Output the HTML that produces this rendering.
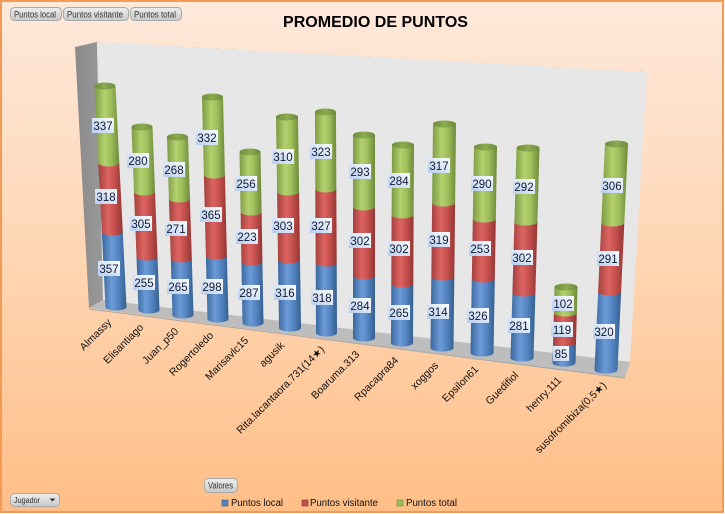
<!DOCTYPE html>
<html><head><meta charset="utf-8">
<style>
html,body{margin:0;padding:0;background:#fff;}
svg{display:block;}
text{font-family:"Liberation Sans","DejaVu Sans",sans-serif;}
</style></head>
<body>
<svg width="725" height="514" viewBox="0 0 725 514" xmlns="http://www.w3.org/2000/svg">
<defs>
<linearGradient id="bg" x1="0" y1="0" x2="0" y2="1">
<stop offset="0" stop-color="#fee9db"/><stop offset="0.5" stop-color="#ffd6b4"/><stop offset="1" stop-color="#ffbe87"/>
</linearGradient>
<linearGradient id="gb" x1="0" y1="0" x2="1" y2="0">
<stop offset="0" stop-color="#3a679f"/><stop offset="0.4" stop-color="#6c9bd6"/><stop offset="0.65" stop-color="#5686c4"/><stop offset="1" stop-color="#34608f"/>
</linearGradient>
<linearGradient id="gr" x1="0" y1="0" x2="1" y2="0">
<stop offset="0" stop-color="#a3403d"/><stop offset="0.4" stop-color="#dc6461"/><stop offset="0.65" stop-color="#c8524f"/><stop offset="1" stop-color="#933633"/>
</linearGradient>
<linearGradient id="gg" x1="0" y1="0" x2="1" y2="0">
<stop offset="0" stop-color="#7c9a43"/><stop offset="0.4" stop-color="#b3d16e"/><stop offset="0.65" stop-color="#a0c05d"/><stop offset="1" stop-color="#6e893a"/>
</linearGradient>
<linearGradient id="gc" x1="0" y1="0" x2="1" y2="0">
<stop offset="0" stop-color="#6f8b3b"/><stop offset="0.5" stop-color="#8cab4f"/><stop offset="1" stop-color="#6f8b3b"/>
</linearGradient>
<linearGradient id="lb" x1="0" y1="1" x2="1" y2="0">
<stop offset="0" stop-color="#b6cdee"/><stop offset="0.55" stop-color="#dde8f7"/><stop offset="1" stop-color="#ffffff"/>
</linearGradient>
<linearGradient id="btn" x1="0" y1="0" x2="0" y2="1">
<stop offset="0" stop-color="#eeeeee"/><stop offset="1" stop-color="#c9c9c9"/>
</linearGradient>
<linearGradient id="side" x1="0" y1="0" x2="1" y2="0">
<stop offset="0" stop-color="#8a8a8a"/><stop offset="1" stop-color="#999999"/>
</linearGradient>
</defs>

<!-- background -->
<rect x="1" y="1" width="722" height="511" fill="url(#bg)" stroke="#f39a55" stroke-width="2"/>

<!-- title -->
<text x="283" y="27" font-size="16" font-weight="bold" fill="#000" textLength="185" lengthAdjust="spacingAndGlyphs">PROMEDIO DE PUNTOS</text>

<!-- top buttons -->
<rect x="10.5" y="7.5" width="51" height="13" rx="4" fill="url(#btn)" stroke="#a9a9a9"/>
<text x="14" y="17.5" font-size="9" fill="#333" textLength="42" lengthAdjust="spacingAndGlyphs">Puntos local</text>
<rect x="63.5" y="7.5" width="65" height="13" rx="4" fill="url(#btn)" stroke="#a9a9a9"/>
<text x="67" y="17.5" font-size="9" fill="#333" textLength="56" lengthAdjust="spacingAndGlyphs">Puntos visitante</text>
<rect x="130.5" y="7.5" width="51" height="13" rx="4" fill="url(#btn)" stroke="#a9a9a9"/>
<text x="134" y="17.5" font-size="9" fill="#333" textLength="42" lengthAdjust="spacingAndGlyphs">Puntos total</text>

<!-- 3D walls -->
<polygon points="75,47 97,42 103,300 89,308" fill="url(#side)"/>
<polygon points="97,42 647,72 630,362 103,300" fill="#e7e7e7"/>
<line x1="97" y1="42" x2="647" y2="72" stroke="#c4c4c4" stroke-width="1" stroke-dasharray="1,16"/>
<polygon points="89,308 103,300 630,362 625,378" fill="#bdbdbd"/>
<line x1="89" y1="309" x2="625" y2="378" stroke="#a6a6a6" stroke-width="1"/>

<!-- bars -->
<g>
<!-- 1 -->
<path d="M101.8,232 L122.8,232 L126.5,307 A10.5,3.5 0 0 1 105.5,307Z" fill="url(#gb)"/>
<path d="M98.3,163 L119.3,163 L122.8,232 A10.5,3.5 0 0 1 101.8,232Z" fill="url(#gr)"/>
<path d="M94.5,86 L115.5,86 L119.3,163 A10.5,3.5 0 0 1 98.3,163Z" fill="url(#gg)"/>
<ellipse cx="105" cy="86" rx="10.5" ry="3.5" fill="url(#gc)"/>
<!-- 2 -->
<path d="M136.5,257 L157.5,257 L159.5,310 A10.5,3.5 0 0 1 138.5,310Z" fill="url(#gb)"/>
<path d="M134,192 L155,192 L157.5,257 A10.5,3.5 0 0 1 136.5,257Z" fill="url(#gr)"/>
<path d="M131.5,127 L152.5,127 L155,192 A10.5,3.5 0 0 1 134,192Z" fill="url(#gg)"/>
<ellipse cx="142" cy="127" rx="10.5" ry="3.5" fill="url(#gc)"/>
<!-- 3 -->
<path d="M170.8,259 L191.8,259 L193.5,315 A10.5,3.5 0 0 1 172.5,315Z" fill="url(#gb)"/>
<path d="M168.9,199 L189.9,199 L191.8,259 A10.5,3.5 0 0 1 170.8,259Z" fill="url(#gr)"/>
<path d="M167,137 L188,137 L189.9,199 A10.5,3.5 0 0 1 168.9,199Z" fill="url(#gg)"/>
<ellipse cx="177.5" cy="137" rx="10.5" ry="3.5" fill="url(#gc)"/>
<!-- 4 -->
<path d="M205.9,256 L226.9,256 L228.5,319 A10.5,3.5 0 0 1 207.5,319Z" fill="url(#gb)"/>
<path d="M203.9,175 L224.9,175 L226.9,256 A10.5,3.5 0 0 1 205.9,256Z" fill="url(#gr)"/>
<path d="M202,97 L223,97 L224.9,175 A10.5,3.5 0 0 1 203.9,175Z" fill="url(#gg)"/>
<ellipse cx="212.5" cy="97" rx="10.5" ry="3.5" fill="url(#gc)"/>
<!-- 5 -->
<path d="M241.4,262 L262.4,262 L263.5,323 A10.5,3.5 0 0 1 242.5,323Z" fill="url(#gb)"/>
<path d="M240.6,212 L261.6,212 L262.4,262 A10.5,3.5 0 0 1 241.4,262Z" fill="url(#gr)"/>
<path d="M239.5,152 L260.5,152 L261.6,212 A10.5,3.5 0 0 1 240.6,212Z" fill="url(#gg)"/>
<ellipse cx="250" cy="152" rx="10.5" ry="3.5" fill="url(#gc)"/>
<!-- 6 -->
<path d="M278,260 L300,260 L301,328 A11,3.5 0 0 1 279,328Z" fill="url(#gb)"/>
<path d="M277.1,192 L299.1,192 L300,260 A11,3.5 0 0 1 278,260Z" fill="url(#gr)"/>
<path d="M276,117 L298,117 L299.1,192 A11,3.5 0 0 1 277.1,192Z" fill="url(#gg)"/>
<ellipse cx="287" cy="117" rx="11" ry="3.5" fill="url(#gc)"/>
<!-- 7 -->
<path d="M315.7,263 L336.7,263 L337,333 A10.5,3.5 0 0 1 316,333Z" fill="url(#gb)"/>
<path d="M315.3,189 L336.3,189 L336.7,263 A10.5,3.5 0 0 1 315.7,263Z" fill="url(#gr)"/>
<path d="M315,112 L336,112 L336.3,189 A10.5,3.5 0 0 1 315.3,189Z" fill="url(#gg)"/>
<ellipse cx="325.5" cy="112" rx="10.5" ry="3.5" fill="url(#gc)"/>
<!-- 8 -->
<path d="M353,276 L375,276 L375,338 A11,3.5 0 0 1 353,338Z" fill="url(#gb)"/>
<path d="M353,207 L375,207 L375,276 A11,3.5 0 0 1 353,276Z" fill="url(#gr)"/>
<path d="M353,135 L375,135 L375,207 A11,3.5 0 0 1 353,207Z" fill="url(#gg)"/>
<ellipse cx="364" cy="135" rx="11" ry="3.5" fill="url(#gc)"/>
<!-- 9 -->
<path d="M391.3,284 L413.3,284 L413,343 A11,3.5 0 0 1 391,343Z" fill="url(#gb)"/>
<path d="M391.6,215 L413.6,215 L413.3,284 A11,3.5 0 0 1 391.3,284Z" fill="url(#gr)"/>
<path d="M392,145 L414,145 L413.6,215 A11,3.5 0 0 1 391.6,215Z" fill="url(#gg)"/>
<ellipse cx="403" cy="145" rx="11" ry="3.5" fill="url(#gc)"/>
<!-- 10 -->
<path d="M431.3,277 L454.3,277 L453.5,348 A11.5,3.5 0 0 1 430.5,348Z" fill="url(#gb)"/>
<path d="M432.1,203 L455.1,203 L454.3,277 A11.5,3.5 0 0 1 431.3,277Z" fill="url(#gr)"/>
<path d="M433,124 L456,124 L455.1,203 A11.5,3.5 0 0 1 432.1,203Z" fill="url(#gg)"/>
<ellipse cx="444.5" cy="124" rx="11.5" ry="3.5" fill="url(#gc)"/>
<!-- 11 -->
<path d="M471.8,279 L494.8,279 L493.5,353 A11.5,3.5 0 0 1 470.5,353Z" fill="url(#gb)"/>
<path d="M472.8,219 L495.8,219 L494.8,279 A11.5,3.5 0 0 1 471.8,279Z" fill="url(#gr)"/>
<path d="M474,147 L497,147 L495.8,219 A11.5,3.5 0 0 1 472.8,219Z" fill="url(#gg)"/>
<ellipse cx="485.5" cy="147" rx="11.5" ry="3.5" fill="url(#gc)"/>
<!-- 12 -->
<path d="M512.4,293 L535.4,293 L533.5,358 A11.5,3.5 0 0 1 510.5,358Z" fill="url(#gb)"/>
<path d="M514.4,222 L537.4,222 L535.4,293 A11.5,3.5 0 0 1 512.4,293Z" fill="url(#gr)"/>
<path d="M516.5,148 L539.5,148 L537.4,222 A11.5,3.5 0 0 1 514.4,222Z" fill="url(#gg)"/>
<ellipse cx="528" cy="148" rx="11.5" ry="3.5" fill="url(#gc)"/>
<!-- 13 -->
<path d="M553,343 L576,343 L575.5,363 A11.5,3.5 0 0 1 552.5,363Z" fill="url(#gb)"/>
<path d="M553.8,313 L576.8,313 L576,343 A11.5,3.5 0 0 1 553,343Z" fill="url(#gr)"/>
<path d="M554.5,287 L577.5,287 L576.8,313 A11.5,3.5 0 0 1 553.8,313Z" fill="url(#gg)"/>
<ellipse cx="566" cy="287" rx="11.5" ry="3.5" fill="url(#gc)"/>
<!-- 14 -->
<path d="M598.1,292 L621.1,292 L617.5,370 A11.5,3.5 0 0 1 594.5,370Z" fill="url(#gb)"/>
<path d="M601.3,223 L624.3,223 L621.1,292 A11.5,3.5 0 0 1 598.1,292Z" fill="url(#gr)"/>
<path d="M605,144 L628,144 L624.3,223 A11.5,3.5 0 0 1 601.3,223Z" fill="url(#gg)"/>
<ellipse cx="616.5" cy="144" rx="11.5" ry="3.5" fill="url(#gc)"/>
</g>

<!-- data labels -->
<g font-size="11.5" fill="#111a33" text-anchor="middle">
<rect x="92" y="118" width="22" height="15" fill="url(#lb)"/><text x="103" y="130">337</text>
<rect x="95" y="189" width="22" height="15" fill="url(#lb)"/><text x="106" y="201">318</text>
<rect x="98" y="261" width="22" height="15" fill="url(#lb)"/><text x="109" y="273">357</text>

<rect x="127" y="153" width="22" height="15" fill="url(#lb)"/><text x="138" y="165">280</text>
<rect x="130" y="216" width="22" height="15" fill="url(#lb)"/><text x="141" y="228">305</text>
<rect x="133" y="275" width="22" height="15" fill="url(#lb)"/><text x="144" y="287">255</text>

<rect x="163" y="162" width="22" height="15" fill="url(#lb)"/><text x="174" y="174">268</text>
<rect x="165" y="221" width="22" height="15" fill="url(#lb)"/><text x="176" y="233">271</text>
<rect x="167" y="279" width="22" height="15" fill="url(#lb)"/><text x="178" y="291">265</text>

<rect x="196" y="130" width="22" height="15" fill="url(#lb)"/><text x="207" y="142">332</text>
<rect x="200" y="207" width="22" height="15" fill="url(#lb)"/><text x="211" y="219">365</text>
<rect x="201" y="279" width="22" height="15" fill="url(#lb)"/><text x="212" y="291">298</text>

<rect x="235" y="176" width="22" height="15" fill="url(#lb)"/><text x="246" y="188">256</text>
<rect x="236" y="229" width="22" height="15" fill="url(#lb)"/><text x="247" y="241">223</text>
<rect x="238" y="285" width="22" height="15" fill="url(#lb)"/><text x="249" y="297">287</text>

<rect x="272" y="149" width="22" height="15" fill="url(#lb)"/><text x="283" y="161">310</text>
<rect x="272" y="218" width="22" height="15" fill="url(#lb)"/><text x="283" y="230">303</text>
<rect x="274" y="285" width="22" height="15" fill="url(#lb)"/><text x="285" y="297">316</text>

<rect x="310" y="144" width="22" height="15" fill="url(#lb)"/><text x="321" y="156">323</text>
<rect x="310" y="218" width="22" height="15" fill="url(#lb)"/><text x="321" y="230">327</text>
<rect x="311" y="290" width="22" height="15" fill="url(#lb)"/><text x="322" y="302">318</text>

<rect x="349" y="164" width="22" height="15" fill="url(#lb)"/><text x="360" y="176">293</text>
<rect x="349" y="233" width="22" height="15" fill="url(#lb)"/><text x="360" y="245">302</text>
<rect x="349" y="298" width="22" height="15" fill="url(#lb)"/><text x="360" y="310">284</text>

<rect x="388" y="173" width="22" height="15" fill="url(#lb)"/><text x="399" y="185">284</text>
<rect x="388" y="241" width="22" height="15" fill="url(#lb)"/><text x="399" y="253">302</text>
<rect x="388" y="305" width="22" height="15" fill="url(#lb)"/><text x="399" y="317">265</text>

<rect x="428" y="158" width="22" height="15" fill="url(#lb)"/><text x="439" y="170">317</text>
<rect x="428" y="232" width="22" height="15" fill="url(#lb)"/><text x="439" y="244">319</text>
<rect x="427" y="304" width="22" height="15" fill="url(#lb)"/><text x="438" y="316">314</text>

<rect x="471" y="176" width="22" height="15" fill="url(#lb)"/><text x="482" y="188">290</text>
<rect x="469" y="241" width="22" height="15" fill="url(#lb)"/><text x="480" y="253">253</text>
<rect x="467" y="308" width="22" height="15" fill="url(#lb)"/><text x="478" y="320">326</text>

<rect x="513" y="179" width="22" height="15" fill="url(#lb)"/><text x="524" y="191">292</text>
<rect x="511" y="250" width="22" height="15" fill="url(#lb)"/><text x="522" y="262">302</text>
<rect x="508" y="318" width="22" height="15" fill="url(#lb)"/><text x="519" y="330">281</text>

<rect x="552" y="296" width="22" height="15" fill="url(#lb)"/><text x="563" y="308">102</text>
<rect x="551" y="322" width="22" height="15" fill="url(#lb)"/><text x="562" y="334">119</text>
<rect x="553" y="346" width="16" height="15" fill="url(#lb)"/><text x="561" y="358">85</text>

<rect x="601" y="178" width="22" height="15" fill="url(#lb)"/><text x="612" y="190">306</text>
<rect x="597" y="251" width="22" height="15" fill="url(#lb)"/><text x="608" y="263">291</text>
<rect x="593" y="324" width="22" height="15" fill="url(#lb)"/><text x="604" y="336">320</text>
</g>

<!-- category labels -->
<g font-size="10.5" fill="#111" text-anchor="end">
<text transform="translate(112,323) rotate(-45)">Almassy</text>
<text transform="translate(144,328) rotate(-45)">Elisantiago</text>
<text transform="translate(179,332) rotate(-45)">Juan_p50</text>
<text transform="translate(214,336) rotate(-45)">Rogertoledo</text>
<text transform="translate(249,341) rotate(-45)">Marisavlc15</text>
<text transform="translate(285,346) rotate(-45)">agusik</text>
<text transform="translate(325,350) rotate(-45)">Rita.lacantaora.731(14★)</text>
<text transform="translate(360,355) rotate(-45)">Boaruma.313</text>
<text transform="translate(399,361) rotate(-45)">Rpacapra84</text>
<text transform="translate(439,366) rotate(-45)">xoggos</text>
<text transform="translate(479,370) rotate(-45)">Epsilon61</text>
<text transform="translate(519,376) rotate(-45)">Guedifiol</text>
<text transform="translate(562,381) rotate(-45)">henry.111</text>
<text transform="translate(607,386) rotate(-45)">susofromibiza(0,5★)</text>
</g>

<!-- bottom controls -->
<rect x="204.5" y="478.5" width="33" height="14" rx="4" fill="url(#btn)" stroke="#a9a9a9"/>
<text x="208" y="488.5" font-size="9" fill="#333" textLength="25" lengthAdjust="spacingAndGlyphs">Valores</text>
<rect x="10.5" y="493.5" width="49" height="13" rx="4" fill="url(#btn)" stroke="#a9a9a9"/>
<text x="14" y="503" font-size="8.5" fill="#333" textLength="26" lengthAdjust="spacingAndGlyphs">Jugador</text>
<polygon points="49.5,498.5 55.5,498.5 52.5,501.5" fill="#333"/>

<!-- legend -->
<rect x="222" y="500" width="6" height="6" fill="#4f81bd" stroke="#3a6090" stroke-width="0.6"/>
<text x="231" y="506" font-size="10" fill="#111" textLength="52" lengthAdjust="spacingAndGlyphs">Puntos local</text>
<rect x="302" y="500" width="6" height="6" fill="#c0504d" stroke="#8e3532" stroke-width="0.6"/>
<text x="310" y="506" font-size="10" fill="#111" textLength="68" lengthAdjust="spacingAndGlyphs">Puntos visitante</text>
<rect x="397" y="500" width="6" height="6" fill="#9bbb59" stroke="#6f8a3b" stroke-width="0.6"/>
<text x="406" y="506" font-size="10" fill="#111" textLength="51" lengthAdjust="spacingAndGlyphs">Puntos total</text>
</svg>
</body></html>
